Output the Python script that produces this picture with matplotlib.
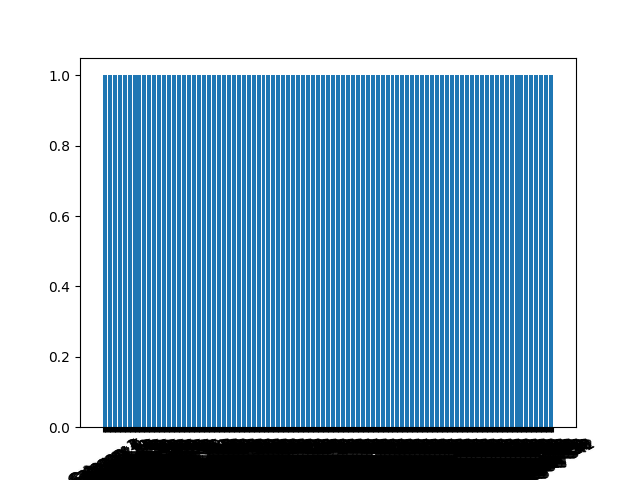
import matplotlib
matplotlib.use("Agg")
import matplotlib.pyplot as plt

# 542 categories, every bar has count 1
n_categories = 542
categories = [f"Category {i}" for i in range(1, n_categories + 1)]
counts = [1] * n_categories

plt.figure(figsize=(6.4, 4.8))
plt.bar(categories, counts)
plt.xticks(rotation=30)

plt.savefig("out.png")
